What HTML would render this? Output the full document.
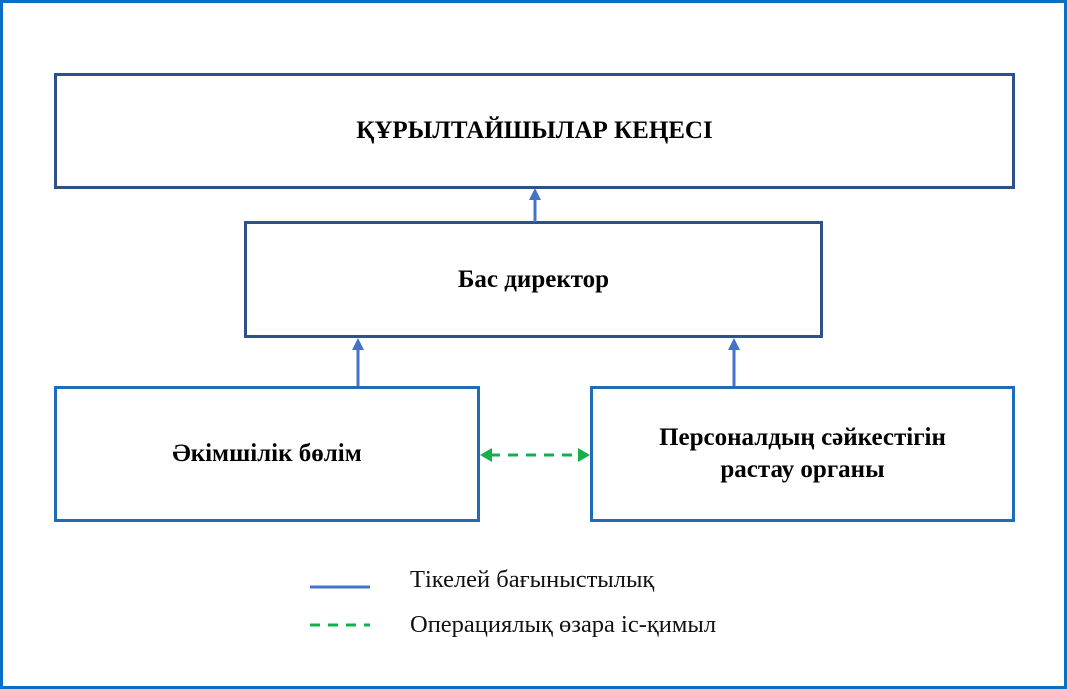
<!DOCTYPE html>
<html><head><style>
body{margin:0;width:1067px;height:689px;overflow:hidden;background:#fff;font-family:"Liberation Serif",serif;}
.o{position:absolute;left:0;top:0;width:1061px;height:683px;border:3px solid #0a6fc2;}
.b{position:absolute;box-sizing:border-box;display:flex;align-items:center;justify-content:center;text-align:center;font-weight:bold;font-size:25px;color:#000;line-height:32px;}
.t{position:absolute;font-size:24.5px;color:#111;line-height:28px;}
</style></head><body>
<div class="o"></div>
<div class="b" style="left:54px;top:73px;width:961px;height:116px;border:3px solid #2e5288;">ҚҰРЫЛТАЙШЫЛАР КЕҢЕСІ</div>
<div class="b" style="left:244px;top:221px;width:579px;height:117px;border:3px solid #2e5288;">Бас директор</div>
<div class="b" style="left:54px;top:386px;width:426px;height:136px;border:3px solid #1f6cb8;">Әкімшілік бөлім</div>
<div class="b" style="left:590px;top:386px;width:425px;height:136px;border:3px solid #1f6cb8;">Персоналдың сәйкестігін<br>растау органы</div>
<svg width="1067" height="689" style="position:absolute;left:0;top:0">
<g stroke="#4472c4" stroke-width="3" fill="#4472c4">
<line x1="535" y1="222" x2="535" y2="198"/><polygon points="529,200 541,200 535,188" stroke="none"/>
<line x1="358" y1="386" x2="358" y2="348"/><polygon points="352,350 364,350 358,338" stroke="none"/>
<line x1="734" y1="386" x2="734" y2="348"/><polygon points="728,350 740,350 734,338" stroke="none"/>
<line x1="310" y1="587" x2="370" y2="587"/>
</g>
<g stroke="#14b04c" stroke-width="3" fill="#14b04c">
<line x1="490" y1="455" x2="580" y2="455" stroke-dasharray="10,8"/>
<polygon points="480,455 492,448 492,462" stroke="none"/>
<polygon points="590,455 578,448 578,462" stroke="none"/>
<line x1="310" y1="625" x2="370" y2="625" stroke-dasharray="10,8"/>
</g>
</svg>
<div class="t" style="left:410px;top:566px;">Тікелей бағыныстылық</div>
<div class="t" style="left:410px;top:611px;">Операциялық өзара іс-қимыл</div>
</body></html>
